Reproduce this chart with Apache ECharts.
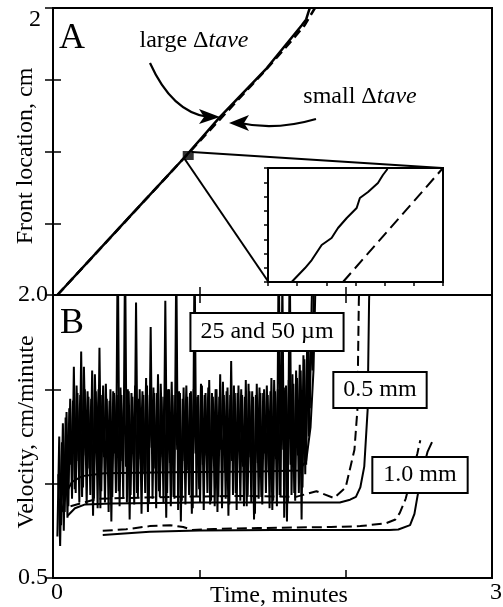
<!DOCTYPE html>
<html><head><meta charset="utf-8">
<script src="https://cdn.jsdelivr.net/npm/echarts@6/dist/echarts.min.js"></script>
<style>html,body{margin:0;padding:0;background:#fff}#c{width:503px;height:607px}</style>
</head><body><div id="c"></div>
<script>
// ---------- data ----------
const timeTicks = [0, 1, 2, 3];
const frontTicks = [0, 0.5, 1, 1.5, 2];
const velTicks = [0.5, 1.0, 1.5, 2.0];
const xTitle = 'Time, minutes';
const yTitleA = 'Front location, cm';
const yTitleB = 'Velocity, cm/minute';

// Panel A: front location (cm) vs time (min)
const frontLargeDt = [[0.03,0],[0.5,0.52],[0.9,0.96],[1.14,1.24],[1.46,1.58],[1.70,1.88],[1.73,1.92],[1.745,1.97],[1.755,2.0]];
const frontSmallDt = [[0.03,0],[0.9,0.96],[1.46,1.575],[1.62,1.76],[1.72,1.88],[1.79,2.0]];
const zoomSquare = [[0.924,0.972]];
const connectorTop = [[0.948,0.997],[2.659,0.885]];
const connectorBottom = [[0.90,0.948],[1.473,0.091]];

// inset (arbitrary zoomed units)
const insetSolid = [[0.81,0],[1.27,0.98],[1.50,1.54],[1.84,2.60],[2.18,3.09],[2.40,3.79],[2.70,4.49],[3.04,5.19],[3.15,5.89],[3.43,6.32],[3.77,6.95],[3.94,7.51],[4.07,7.86],[4.10,8]];
const insetDashed = [[2.57,0],[6,8]];

// Panel B: velocity (cm/min) vs time (min)
const noise25Start = 0.03, noiseStep = 0.0125;
const noise25 = [0.72,1.25,0.78,1.32,0.85,1.38,0.88,1.45,0.92,1.62,
0.95,1.48,0.90,1.70,0.98,1.50,0.89,1.46,0.94,1.60,
0.92,1.49,0.87,1.72,0.96,1.52,0.90,1.45,0.85,1.50,
0.93,1.48,0.95,2.3,0.88,1.47,0.92,2.25,0.90,1.49,
0.94,1.46,0.89,1.96,0.93,1.50,0.84,1.47,0.95,1.52,
0.90,1.83,0.92,1.48,0.87,1.58,0.93,1.46,0.90,1.97,
0.95,1.50,0.88,1.47,0.92,2.2,0.86,1.48,0.91,1.51,
0.89,1.46,0.94,1.49,0.87,2.25,0.93,1.47,0.90,1.52,
0.86,1.48,0.95,1.55,0.91,1.46,0.88,1.50,0.93,1.58,
0.87,1.47,0.92,1.51,0.89,1.65,0.94,1.48,0.86,1.52,
0.91,1.47,0.88,1.55,0.93,1.49,0.90,1.46,0.84,1.53,
0.92,1.48,0.89,1.50,0.95,1.47,0.87,1.56,0.91,1.49,
0.88,2.3,0.93,2.1,0.82,1.52,0.90,2.25,0.94,1.53,
0.91,1.56,0.95,1.60,0.98,1.66,1.10,1.74,1.40,1.95,2.3];
const noise50Start = 0.03625;
const noise50 = [1.05,0.67,1.22,0.75,1.35,0.82,1.40,1.10,1.44,0.97,
1.52,1.12,1.47,0.93,1.62,1.15,1.49,1.08,1.45,0.83,
1.58,1.18,1.50,0.87,1.47,1.14,1.53,1.06,1.44,0.80,
1.49,1.16,1.47,0.96,1.51,1.12,1.46,1.09,1.50,0.81,
1.48,1.17,1.52,0.95,1.45,1.13,1.49,1.05,1.56,0.85,
1.47,1.19,1.51,1.08,1.48,0.96,1.53,1.14,1.46,0.82,
1.50,1.11,1.54,0.93,1.47,1.18,1.49,0.80,1.45,1.12,
1.52,1.07,1.48,0.84,1.50,1.16,1.46,0.97,1.53,1.10,
1.47,1.15,1.51,0.89,1.48,1.13,1.50,0.85,1.46,1.18,
1.54,1.06,1.49,0.83,1.47,1.12,1.52,0.95,1.48,1.17,
1.50,1.09,1.46,0.88,1.53,1.14,1.49,0.81,1.47,1.11,
1.51,0.93,1.48,1.16,1.52,1.07,1.49,0.86,1.55,1.13,
1.50,0.94,1.53,1.18,1.51,0.80,1.55,1.10,1.58,0.95,
1.60,1.15,1.63,0.81,1.68,1.05,1.72,1.25,1.80,1.60,2.3];
const smooth25 = [[0.06,0.85],[0.09,0.95],[0.13,1.01],[0.2,1.04],[0.35,1.055],[0.8,1.06],[1.4,1.065],[1.68,1.07],[1.73,1.12],[1.76,1.3],[1.78,1.6],[1.795,2.1]];
const mm05Solid = [[0.1,0.83],[0.15,0.87],[0.22,0.89],[0.4,0.895],[1.0,0.9],[1.6,0.9],[1.96,0.9],[2.03,0.915],[2.07,0.93],[2.1,0.98],[2.127,1.09],[2.15,1.39],[2.16,1.97],[2.165,2.1]];
const mm05Dashed = [[0.12,0.88],[0.3,0.92],[0.8,0.93],[1.3,0.935],[1.66,0.93],[1.8,0.96],[1.92,0.924],[2.0,0.98],[2.06,1.18],[2.08,1.39],[2.09,1.97],[2.095,2.1]];
const mm10Dashed = [[0.34,0.75],[0.5,0.758],[0.66,0.775],[0.8,0.78],[0.89,0.77],[0.95,0.755],[1.1,0.76],[1.4,0.765],[1.9,0.77],[2.1,0.775],[2.275,0.79],[2.34,0.81],[2.37,0.845],[2.41,0.92],[2.45,1.04],[2.49,1.16],[2.51,1.23]];
const mm10Solid = [[0.34,0.728],[0.66,0.745],[1.0,0.752],[1.5,0.755],[2.0,0.755],[2.3,0.755],[2.36,0.757],[2.44,0.78],[2.47,0.84],[2.49,0.93],[2.52,1.05],[2.56,1.17],[2.59,1.22]];

// ---------- chart ----------
const F = 'Liberation Serif';
const toPairs = (start, arr) => arr.map((v, i) => [start + i * noiseStep, v]);
const chart = echarts.init(document.getElementById('c'), null, {renderer: 'canvas'});

function axisBase(grid, min, max, interval, pos, tickLen) {
  return {
    gridIndex: grid, type: 'value', min, max, interval, position: pos,
    axisLine: {show: false},
    axisTick: {show: true, inside: true, length: tickLen, lineStyle: {color: '#000', width: 1.5}},
    axisLabel: {show: false},
    splitLine: {show: false}
  };
}

const xAxes = [
  axisBase(0, timeTicks[0], timeTicks[3], 1, 'bottom', 8),
  axisBase(0, timeTicks[0], timeTicks[3], 1, 'top', 8),
  Object.assign(axisBase(1, timeTicks[0], timeTicks[3], 1, 'bottom', 8), {
    axisLabel: {show: true, margin: 3, fontFamily: F, fontSize: 24, color: '#000', padding: [0, 0, 0, 8],
      formatter: v => (v === 0 ? '0' : (v === 3 ? '3' : ''))}
  }),
  axisBase(1, timeTicks[0], timeTicks[3], 1, 'top', 8),
  axisBase(2, 0, 6, 1, 'bottom', 4),
  axisBase(2, 0, 6, 1, 'top', 4)
];
const yAxes = [
  Object.assign(axisBase(0, frontTicks[0], frontTicks[4], 0.5, 'left', 8), {
    axisLabel: {show: true, margin: 12, fontFamily: F, fontSize: 24, color: '#000', verticalAlign: 'top',
      formatter: v => (v === 2 ? '2' : '')}
  }),
  axisBase(0, frontTicks[0], frontTicks[4], 0.5, 'right', 8),
  Object.assign(axisBase(1, velTicks[0], velTicks[3], 0.5, 'left', 8), {
    axisLabel: {show: true, margin: 5, fontFamily: F, fontSize: 24, color: '#000',
      formatter: v => (v === 2 ? '2.0' : (v === 0.5 ? '0.5' : ''))}
  }),
  axisBase(1, velTicks[0], velTicks[3], 0.5, 'right', 8),
  axisBase(2, 0, 8, 1, 'left', 4),
  axisBase(2, 0, 8, 1, 'right', 4)
];

function line(xi, yi, data, width, dashed, z) {
  return {
    type: 'line', xAxisIndex: xi, yAxisIndex: yi, data, symbol: 'none', silent: true, animation: false,
    z: z || 2,
    lineStyle: {color: '#000', width, type: dashed ? dashed : 'solid'}
  };
}

const gridCommon = {show: true, borderColor: '#000', borderWidth: 2, containLabel: false, outerBoundsMode: 'none'};
const titleStyle = {fontFamily: F, fontSize: 24, fill: '#000', align: 'center', verticalAlign: 'middle'};
const option = {
  animation: false,
  backgroundColor: '#fff',
  grid: [
    Object.assign({left: 53, top: 8, width: 439, height: 287, backgroundColor: 'transparent'}, gridCommon),
    Object.assign({left: 53, top: 295, width: 439, height: 283, backgroundColor: 'transparent'}, gridCommon),
    Object.assign({left: 268, top: 168, width: 175, height: 114, backgroundColor: '#fff', z: 5}, gridCommon)
  ],
  xAxis: xAxes,
  yAxis: yAxes,
  series: [
    line(0, 0, frontLargeDt, 2.5),
    line(0, 0, frontSmallDt, 2.5, [9, 5]),
    line(0, 0, connectorTop, 2),
    line(0, 0, connectorBottom, 2),
    {type: 'scatter', xAxisIndex: 0, yAxisIndex: 0, data: zoomSquare, symbol: 'rect', symbolSize: [11, 9],
      itemStyle: {color: '#000'}, silent: true},
    line(4, 4, insetSolid, 2, null, 6),
    line(4, 4, insetDashed, 2, [12, 6], 6),
    line(2, 2, toPairs(noise25Start, noise25), 2),
    line(2, 2, toPairs(noise50Start, noise50), 2),
    line(2, 2, smooth25, 2),
    line(2, 2, mm05Solid, 2),
    line(2, 2, mm05Dashed, 2, [10, 5]),
    line(2, 2, mm10Solid, 2),
    line(2, 2, mm10Dashed, 2, [10, 5])
  ],
  graphic: [
    {type: 'text', x: 279, y: 596, z: 100, style: Object.assign({text: xTitle}, titleStyle)},
    {type: 'text', x: 26, y: 156, rotation: Math.PI / 2, z: 100, style: Object.assign({text: yTitleA}, titleStyle)},
    {type: 'text', x: 27, y: 432, rotation: Math.PI / 2, z: 100, style: Object.assign({text: yTitleB}, titleStyle)},
    {type: 'text', x: 72, y: 39, z: 100, style: {text: 'A', fontFamily: F, fontSize: 36, fill: '#000', align: 'center', verticalAlign: 'middle'}},
    {type: 'text', x: 72, y: 324, z: 100, style: {text: 'B', fontFamily: F, fontSize: 36, fill: '#000', align: 'center', verticalAlign: 'middle'}},
    {type: 'text', x: 194, y: 41, z: 100, style: {text: '{n|large Δ}{i|tave}', fill: '#000', align: 'center', verticalAlign: 'middle',
      rich: {n: {fontFamily: F, fontSize: 24, fill: '#000'}, i: {fontFamily: F, fontSize: 24, fontStyle: 'italic', fill: '#000'}}}},
    {type: 'text', x: 360, y: 97, z: 100, style: {text: '{n|small Δ}{i|tave}', fill: '#000', align: 'center', verticalAlign: 'middle',
      rich: {n: {fontFamily: F, fontSize: 24, fill: '#000'}, i: {fontFamily: F, fontSize: 24, fontStyle: 'italic', fill: '#000'}}}},
    {type: 'bezierCurve', z: 100, shape: {x1: 150, y1: 63, cpx1: 172, cpy1: 112, x2: 208, y2: 117}, style: {stroke: '#000', lineWidth: 2.2, fill: null}},
    {type: 'polygon', z: 100, shape: {points: [[220, 117], [199, 109], [204, 117], [199, 124]]}, style: {fill: '#000'}},
    {type: 'bezierCurve', z: 100, shape: {x1: 316, y1: 119, cpx1: 275, cpy1: 131, x2: 240, y2: 123}, style: {stroke: '#000', lineWidth: 2.2, fill: null}},
    {type: 'polygon', z: 100, shape: {points: [[229, 123], [249, 115], [244, 123], [249, 131]]}, style: {fill: '#000'}},
    {type: 'text', x: 267, y: 332, z: 100, style: {text: '25 and 50 µm', fontFamily: F, fontSize: 24, lineHeight: 26, fill: '#000', align: 'center', verticalAlign: 'middle',
      backgroundColor: '#fff', borderColor: '#000', borderWidth: 2, padding: [5, 9, 5, 9]}},
    {type: 'text', x: 380, y: 390, z: 100, style: {text: '0.5 mm', fontFamily: F, fontSize: 24, lineHeight: 26, fill: '#000', align: 'center', verticalAlign: 'middle',
      backgroundColor: '#fff', borderColor: '#000', borderWidth: 2, padding: [4, 9, 4, 9]}},
    {type: 'text', x: 420, y: 475, z: 100, style: {text: '1.0 mm', fontFamily: F, fontSize: 24, lineHeight: 26, fill: '#000', align: 'center', verticalAlign: 'middle',
      backgroundColor: '#fff', borderColor: '#000', borderWidth: 2, padding: [4, 10, 4, 10]}}
  ]
};
chart.setOption(option);
</script>
</body></html>
